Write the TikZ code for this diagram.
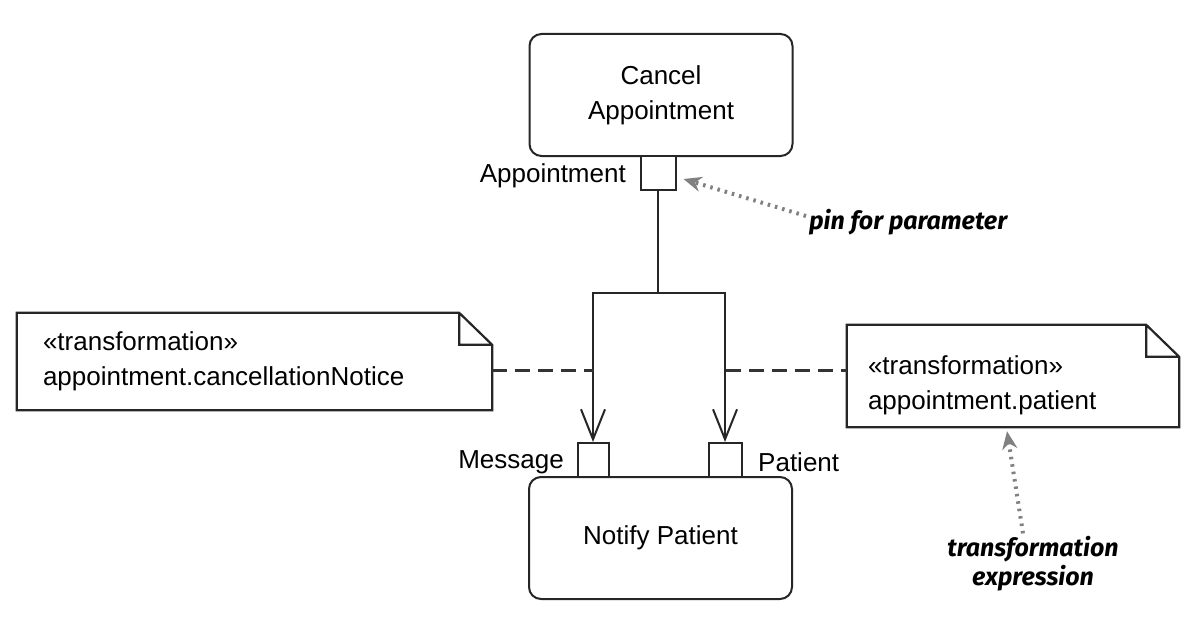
\documentclass[tikz,border=0pt]{standalone}
\usepackage{fontspec}
\setmainfont{Liberation Sans}
\newfontfamily\handfont{Fira Sans}
\usetikzlibrary{arrows.meta}

\begin{document}
\begin{tikzpicture}[x=1pt, y=-1pt,
    txt/.style={font=\fontsize{26}{35}\selectfont},
    action/.style={txt, rectangle, rounded corners=12pt, draw=black!85, line width=2pt,
      minimum width=263pt, minimum height=122pt, align=center},
    pinbox/.style={rectangle, draw=black!85, line width=2pt, fill=white,
      minimum width=33pt, minimum height=34pt, inner sep=0pt},
    lbl/.style={txt, inner sep=0pt},
    note/.style={txt, rectangle, align=left, inner ysep=0pt},
    notebd/.style={draw=black!85, line width=2.2pt, line join=miter},
    flow/.style={draw=black!85, line width=2pt},
    joinline/.style={draw=black!80, line width=3pt, dash pattern=on 15pt off 8pt},
    hand/.style={font=\handfont\bfseries\itshape\fontsize{25}{29}\selectfont, inner sep=3pt},
    hint/.style={draw=black!50, line width=4pt, dash pattern=on 2.5pt off 5pt,
      -{Stealth[length=18pt, width=15pt]}}]
    \fill[white] (0,0) rectangle (1194,618);

    \node[action] (cancel) at (661,95) {Cancel\\Appointment};
    \node[pinbox, minimum width=35pt] (aptpin) at (658,173) {};
    \node[lbl, anchor=east] (aptlbl) at (626,176) {Appointment};

    \node[action] (notify) at (660.5,538) {Notify Patient};
    \node[pinbox, minimum width=31pt] (msgpin) at (593,460) {};
    \node[pinbox] (patpin) at (725,460) {};
    \node[lbl, anchor=east] (msglbl) at (564,462) {Message};
    \node[lbl, anchor=west] (patlbl) at (758,462) {Patient};

    \node[note, text width=423pt, inner xsep=26pt, minimum height=97pt] (lnote) at (254.5,361.5)
      {«transformation»\\appointment.cancellationNotice};
    \node[note, text width=290pt, inner xsep=21pt, minimum height=102pt] (rnote) at (1013,376)
      {\rule{0pt}{37pt}«transformation»\\appointment.patient};
    \foreach \n in {lnote,rnote}
      \draw[notebd] (\n.north west) -- ([xshift=-33pt]\n.north east) -- ([yshift=-32pt]\n.north east)
        -- (\n.south east) -- (\n.south west) -- cycle
        ([xshift=-33pt]\n.north east) |- ([yshift=-32pt]\n.north east);

    \coordinate (fork) at (658,293);
    \coordinate (ljoin) at (594,370);
    \coordinate (rjoin) at (726,370);
    \draw[flow] (aptpin) -- (fork);
    \draw[flow, -{Straight Barb[length=30pt, width=24pt]}] (fork) -| (msgpin.north);
    \draw[flow, -{Straight Barb[length=30pt, width=24pt]}] (fork) -| (patpin.north);
    \draw[joinline] (lnote.east |- ljoin) -- (ljoin);
    \draw[joinline] (rjoin) -- (rnote.west |- rjoin);

    \node[hand, anchor=west] (pinnote) at (806,222) {pin for parameter};
    \node[hand, align=center] (exprnote) at (1033,564) {transformation\\expression};
    \draw[hint] ([yshift=6pt]pinnote.west) -- ([shift={(7pt,-6pt)}]aptpin.east);
    \draw[hint] ([xshift=-10pt]exprnote.north) -- ([shift={(-6pt,-4pt)}]rnote.south);
\end{tikzpicture}
\end{document}
